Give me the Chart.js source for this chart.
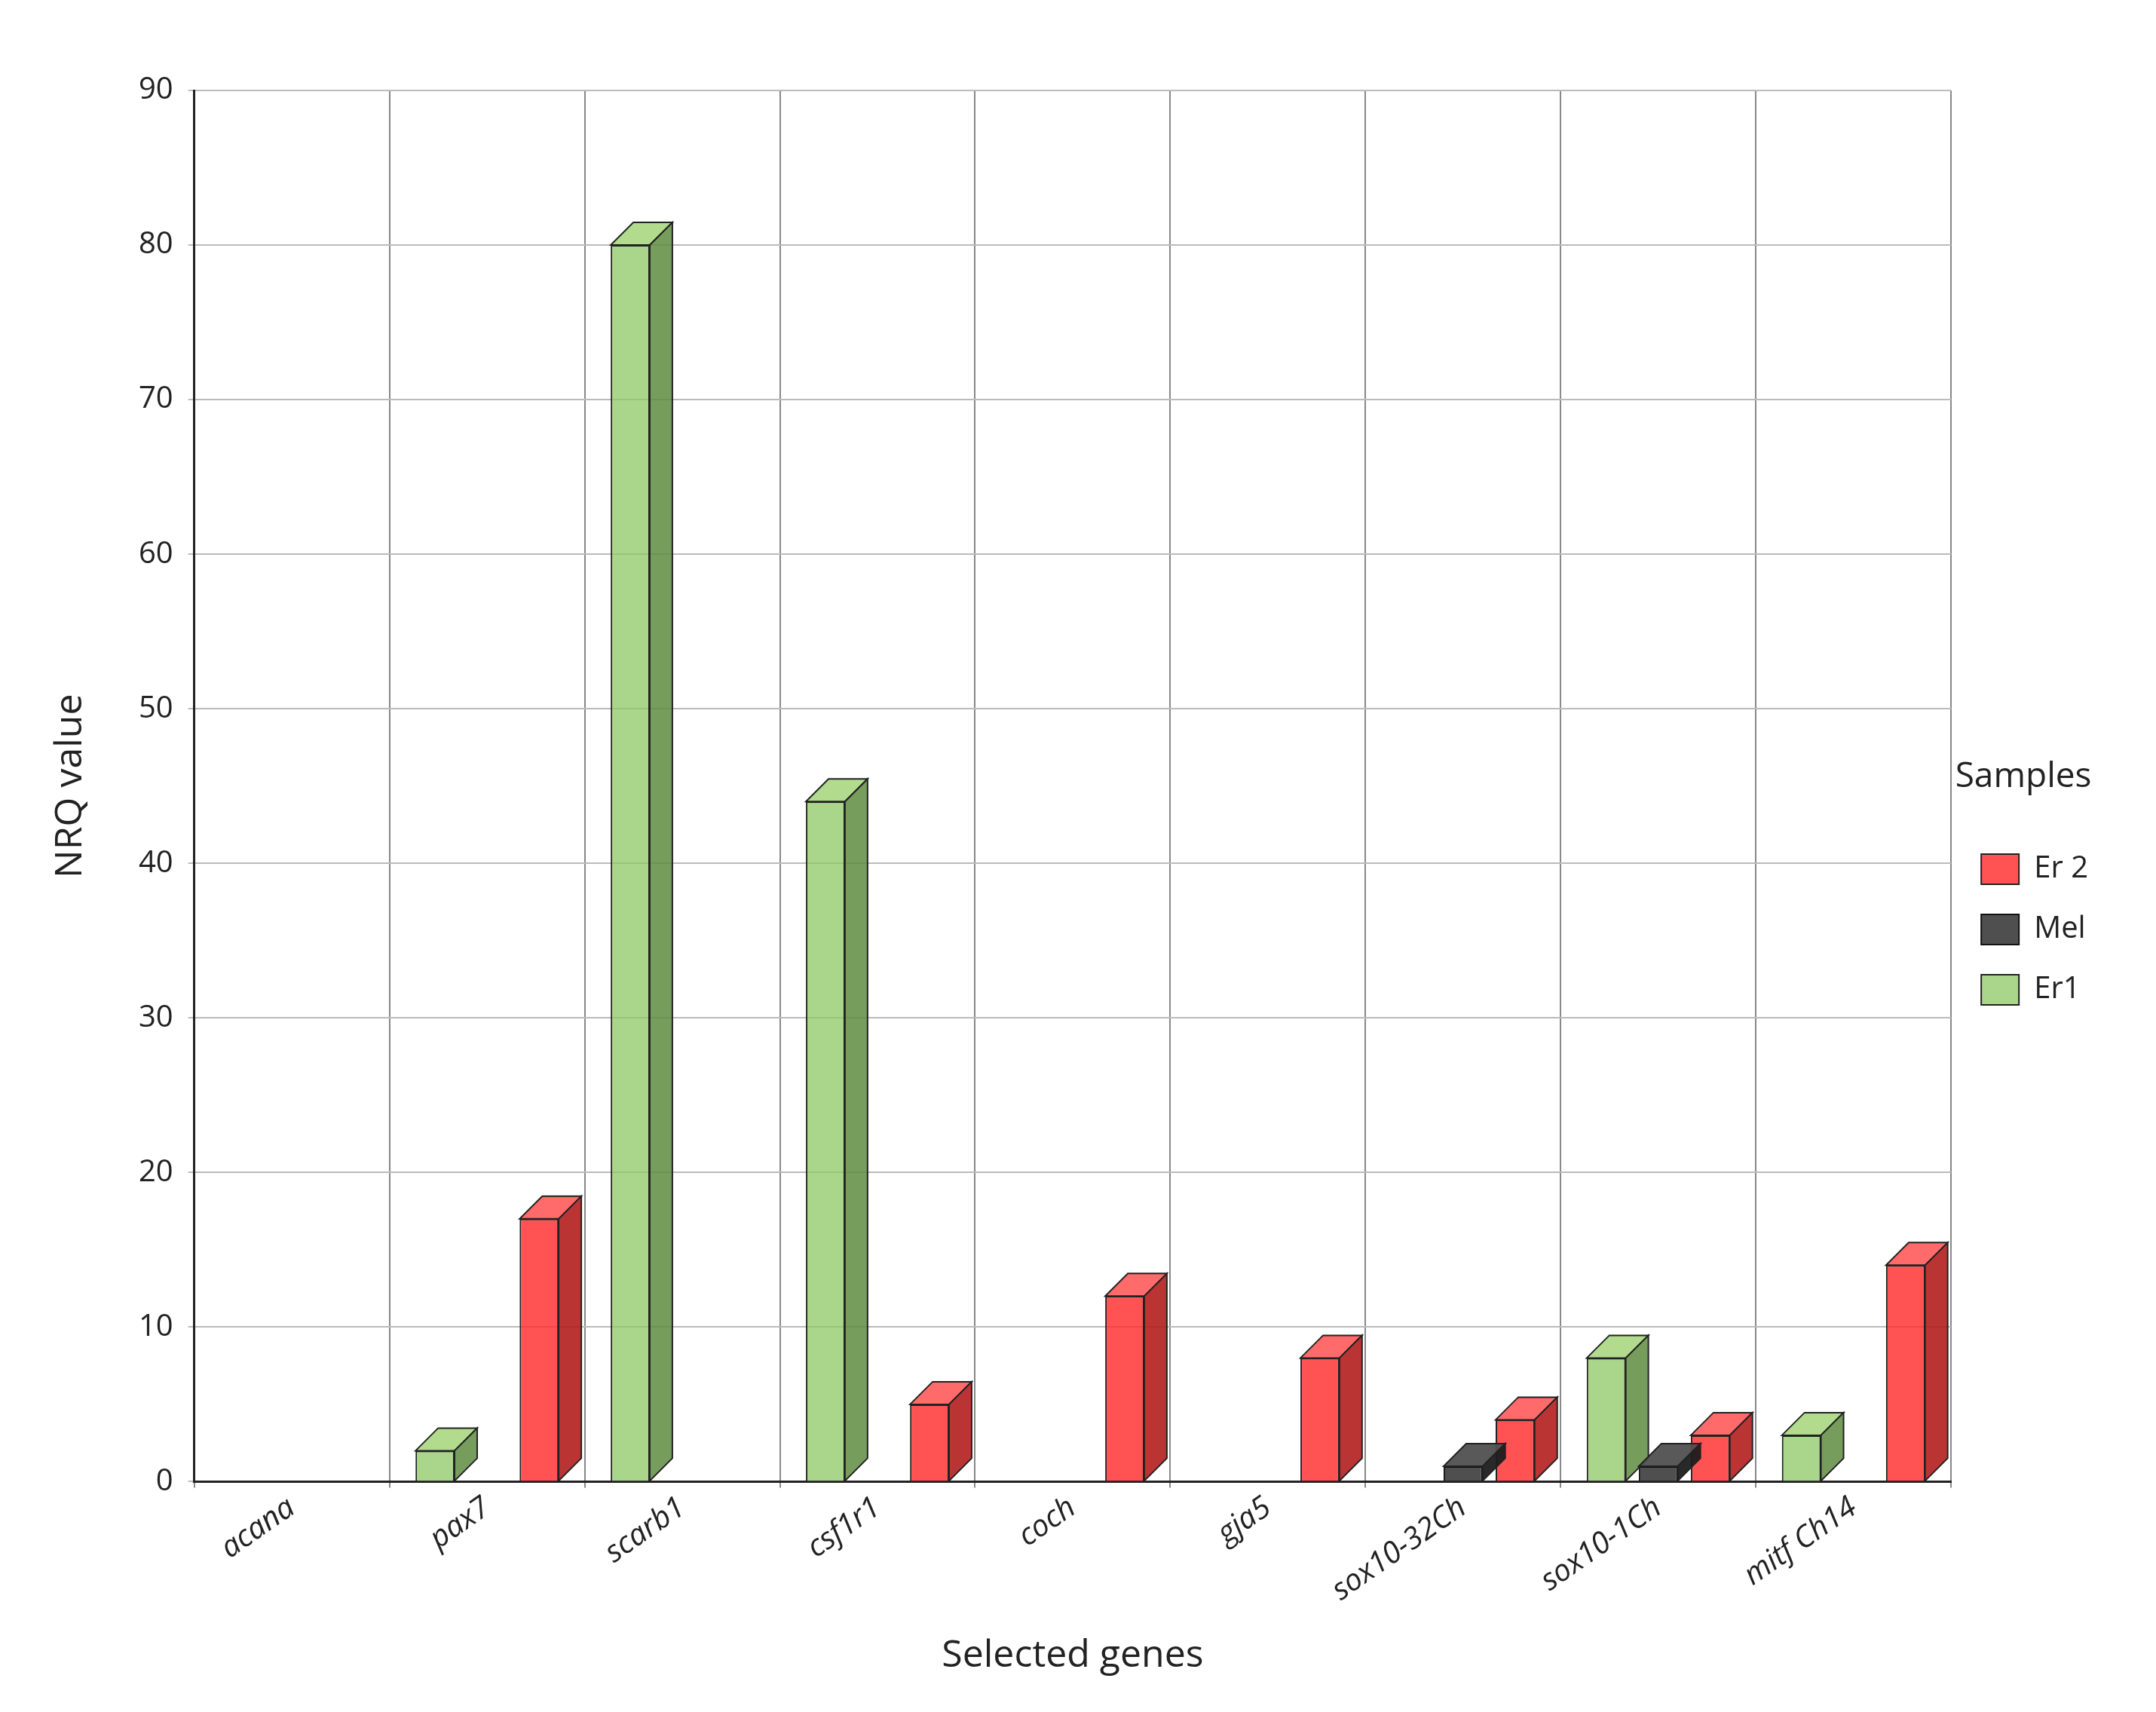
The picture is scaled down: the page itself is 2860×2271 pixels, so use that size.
<!DOCTYPE html>
<html>
<head>
<meta charset="utf-8">
<script src="https://cdn.jsdelivr.net/npm/chart.js@4.4.0/dist/chart.umd.min.js"></script>
<style>
  html, body { margin: 0; padding: 0; background: #fff; }
  #wrap { width: 2860px; height: 2271px; }
</style>
</head>
<body>
<div id="wrap"><canvas id="nrq-chart" width="2860" height="2271"></canvas></div>
<script>
const genes = ["acana", "pax7", "scarb1", "csf1r1", "coch", "gja5", "sox10-32Ch", "sox10-1Ch", "mitf Ch14"];
const er1 = [null, 2, 80, 44, null, null, null, 8, 3];
const mel = [null, null, null, null, null, null, 1, 1, null];
const er2 = [null, 17, null, 5, 12, 8, 4, 3, 14];
const yTicks = [0, 10, 20, 30, 40, 50, 60, 70, 80, 90];

const nrqCanvas = document.getElementById("nrq-chart");

// fake depth on each bar: top face + right side face
const depthPlugin = {
    id: 'depth',
    afterDatasetsDraw(chart) {
        const ctx = chart.ctx;
        const d = 30;
        chart.data.datasets.forEach((ds, i) => {
            const meta = chart.getDatasetMeta(i);
            meta.data.forEach((bar, j) => {
                if (ds.data[j] == null) return;
                const l = bar.x - bar.width / 2, r = bar.x + bar.width / 2;
                const top = bar.y, base = bar.base;
                ctx.save();
                ctx.strokeStyle = '#222';
                ctx.lineWidth = 2;
                ctx.fillStyle = ds.topColor;
                ctx.beginPath();
                ctx.moveTo(l, top); ctx.lineTo(r, top);
                ctx.lineTo(r + d, top - d); ctx.lineTo(l + d, top - d);
                ctx.closePath(); ctx.fill(); ctx.stroke();
                ctx.fillStyle = ds.sideColor;
                ctx.beginPath();
                ctx.moveTo(r, top); ctx.lineTo(r + d, top - d);
                ctx.lineTo(r + d, base - d); ctx.lineTo(r, base);
                ctx.closePath(); ctx.fill(); ctx.stroke();
                ctx.restore();
            });
        });
    }
};

let nrqChart = new Chart(nrqCanvas, {
    type: 'bar',
    data: {
        labels: genes,
        datasets: [
            { label: 'Er1', data: er1, backgroundColor: 'rgba(140, 200, 100, .75)',
              topColor: 'rgba(170, 215, 130, .9)', sideColor: 'rgba(95, 140, 65, .85)',
              borderColor: '#222', borderWidth: 2 },
            { label: 'Mel', data: mel, backgroundColor: 'rgba(60, 60, 60, .9)',
              topColor: 'rgba(80, 80, 80, .95)', sideColor: 'rgba(30, 30, 30, .95)',
              borderColor: '#111', borderWidth: 2 },
            { label: 'Er 2', data: er2, backgroundColor: 'rgba(255, 40, 40, .8)',
              topColor: 'rgba(255, 90, 90, .9)', sideColor: 'rgba(180, 30, 30, .9)',
              borderColor: '#222', borderWidth: 2 }
        ]
    },
    options: {
        responsive: false,
        animation: false,
        devicePixelRatio: 1,
        layout: { padding: { top: 120, right: 80, left: 60, bottom: 40 } },
        datasets: { bar: { categoryPercentage: 0.8, barPercentage: 0.75 } },
        scales: {
            x: {
                grid: { color: '#888', lineWidth: 2, offset: true },
                border: { color: '#222', width: 3 },
                ticks: {
                    color: '#222', maxRotation: 35, minRotation: 35,
                    font: { family: 'Open Sans', size: 40, style: 'italic' }
                },
                title: { display: true, text: 'Selected genes', color: '#222',
                         font: { family: 'Open Sans', size: 50 }, padding: { top: 30 } }
            },
            y: {
                min: 0, max: 90,
                afterBuildTicks: axis => { axis.ticks = yTicks.map(v => ({ value: v })); },
                grid: { color: '#bbb', lineWidth: 2 },
                border: { color: '#222', width: 3 },
                ticks: { color: '#222', padding: 20, font: { family: 'Open Sans', size: 40 } },
                title: { display: true, text: 'NRQ value', color: '#222',
                         font: { family: 'Open Sans', size: 50 }, padding: { bottom: 40 } }
            }
        },
        plugins: {
            legend: {
                position: 'right',
                reverse: true,
                title: { display: true, text: 'Samples', color: '#222',
                         font: { family: 'Open Sans', size: 46 }, padding: 30 },
                labels: { color: '#222', boxWidth: 50, boxHeight: 40, padding: 40,
                          font: { family: 'Open Sans', size: 40 } }
            },
            tooltip: { enabled: false }
        }
    },
    plugins: [depthPlugin]
});
</script>
</body>
</html>
